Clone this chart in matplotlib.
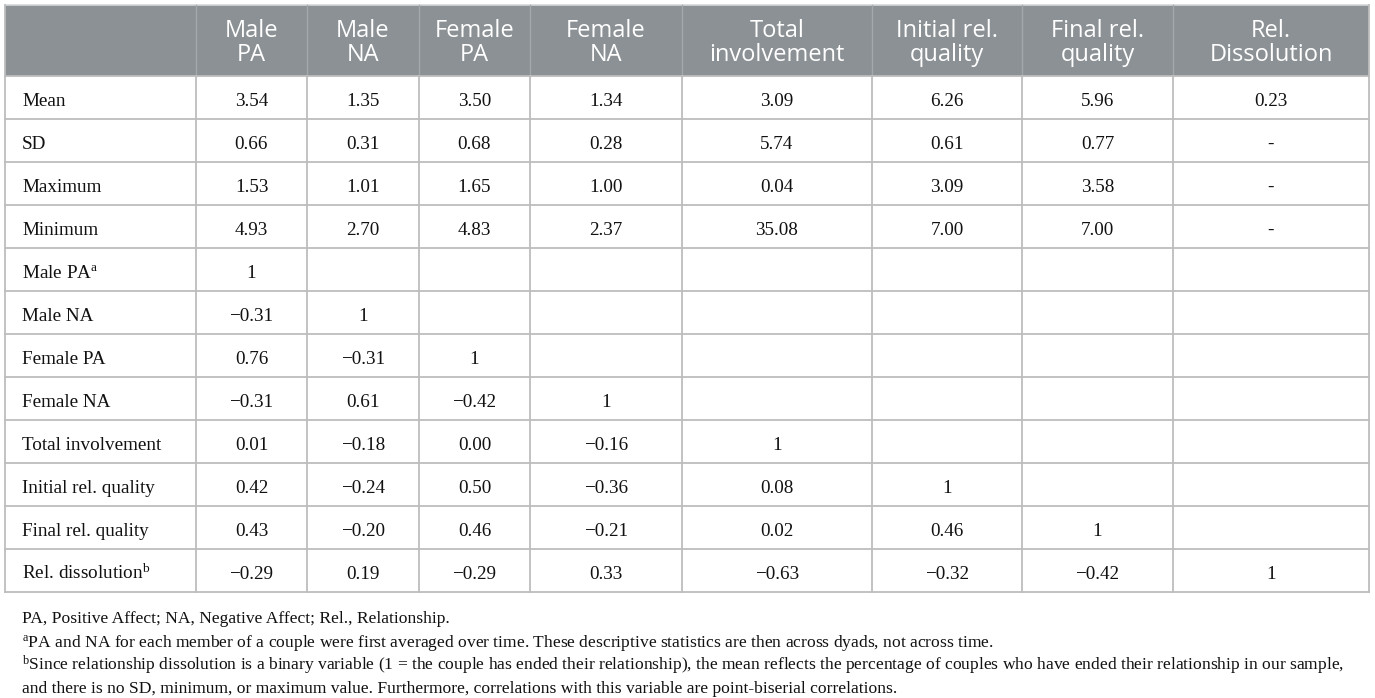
import matplotlib
matplotlib.use("Agg")
import matplotlib.pyplot as plt
from matplotlib.patches import Rectangle

plt.rcParams["mathtext.fontset"] = "custom"
plt.rcParams["mathtext.rm"] = "Liberation Serif"
plt.rcParams["mathtext.it"] = "Liberation Serif:italic"
plt.rcParams["mathtext.bf"] = "Liberation Serif:bold"

# ---------------- data ----------------
col_headers = ["Male\nPA", "Male\nNA", "Female\nPA", "Female\nNA", "Total\ninvolvement",
               "Initial rel.\nquality", "Final rel.\nquality", "Rel.\nDissolution"]
row_labels = ["Mean", "SD", "Maximum", "Minimum", "Male PA", "Male NA", "Female PA",
              "Female NA", "Total involvement", "Initial rel. quality", "Final rel. quality",
              "Rel. dissolution"]
row_label_sup = ["", "", "", "", "a", "", "", "", "", "", "", "b"]
mean_vals = ["3.54", "1.35", "3.50", "1.34", "3.09", "6.26", "5.96", "0.23"]
sd_vals = ["0.66", "0.31", "0.68", "0.28", "5.74", "0.61", "0.77", "-"]
max_vals = ["1.53", "1.01", "1.65", "1.00", "0.04", "3.09", "3.58", "-"]
min_vals = ["4.93", "2.70", "4.83", "2.37", "35.08", "7.00", "7.00", "-"]
corr_male_pa = ["1"]
corr_male_na = ["\u22120.31", "1"]
corr_female_pa = ["0.76", "\u22120.31", "1"]
corr_female_na = ["\u22120.31", "0.61", "\u22120.42", "1"]
corr_total_inv = ["0.01", "\u22120.18", "0.00", "\u22120.16", "1"]
corr_initial_q = ["0.42", "\u22120.24", "0.50", "\u22120.36", "0.08", "1"]
corr_final_q = ["0.43", "\u22120.20", "0.46", "\u22120.21", "0.02", "0.46", "1"]
corr_dissol = ["\u22120.29", "0.19", "\u22120.29", "0.33", "\u22120.63", "\u22120.32", "\u22120.42", "1"]
footnote_sups = ["", "a", "b", ""]
footnotes = [
    "PA, Positive Affect; NA, Negative Affect; Rel., Relationship.",
    "PA and NA for each member of a couple were first averaged over time. These descriptive statistics are then across dyads, not across time.",
    "Since relationship dissolution is a binary variable (1 = the couple has ended their relationship), the mean reflects the percentage of couples who have ended their relationship in our sample,",
    "and there is no SD, minimum, or maximum value. Furthermore, correlations with this variable are point-biserial correlations.",
]

body = [mean_vals, sd_vals, max_vals, min_vals, corr_male_pa, corr_male_na, corr_female_pa,
        corr_female_na, corr_total_inv, corr_initial_q, corr_final_q, corr_dissol]

# ---------------- layout ----------------
W, H = 1375, 698
col_edges = [5, 196, 307, 419, 530, 682, 872, 1022, 1173, 1369]
header_top, header_bot = 5, 76
row_h = 43

HEAD_BG = "#8b9194"
HEAD_SEP = "#a3a8ab"
GRID = "#bdbdbd"
TXT = "#111111"
SERIF = ["Liberation Serif", "DejaVu Serif"]
SANS = ["Open Sans", "DejaVu Sans"]


def with_sup(text, sup):
    return text + (r"$^{\mathrm{" + sup + "}}$" if sup else "")


def pre_sup(text, sup):
    return (r"$^{\mathrm{" + sup + "}}$" if sup else "") + text


fig = plt.figure(figsize=(W / 100, H / 100), dpi=100)
ax = fig.add_axes([0, 0, 1, 1])
ax.set_xlim(0, W)
ax.set_ylim(H, 0)
ax.axis("off")

left, right = col_edges[0], col_edges[-1]
n_rows = len(row_labels)
table_bot = header_bot + n_rows * row_h

# header
ax.add_patch(Rectangle((left, header_top), right - left, header_bot - header_top,
                       facecolor=HEAD_BG, edgecolor="none", zorder=1))
ax.plot([left, right], [header_top - 0.5, header_top - 0.5], color="#d5d7d8", lw=1.2, zorder=2)
for x in col_edges[1:-1]:
    ax.plot([x, x], [header_top, header_bot], color=HEAD_SEP, lw=1.0, zorder=2)
for j, h in enumerate(col_headers):
    cx = (col_edges[j + 1] + col_edges[j + 2]) / 2
    ax.text(cx, (header_top + header_bot) / 2 + 2.5, h, ha="center", va="center",
            color="white", fontsize=17, family=SANS, linespacing=1.05, zorder=3)

# grid
for i in range(n_rows + 1):
    y = header_bot + i * row_h
    ax.plot([left, right], [y, y], color=GRID, lw=1.3, zorder=2)
for x in col_edges:
    ax.plot([x, x], [header_bot, table_bot], color=GRID, lw=1.3, zorder=2)
ax.plot([left, left], [header_top, header_bot], color=GRID, lw=1.3, zorder=2)
ax.plot([right, right], [header_top, header_bot], color=GRID, lw=1.3, zorder=2)

# body
for i, (lab, sup, vals) in enumerate(zip(row_labels, row_label_sup, body)):
    base = header_bot + i * row_h + 30
    ax.text(22, base, with_sup(lab, sup), ha="left", va="baseline", fontsize=13.8,
            family=SERIF, color=TXT, zorder=3)
    for j, v in enumerate(vals):
        cx = (col_edges[j + 1] + col_edges[j + 2]) / 2
        ax.text(cx, base, v, ha="center", va="baseline", fontsize=13.8, family=SERIF,
                color=TXT, zorder=3)

# footnotes
fy = [623, 647, 670, 693]
for y, sup, txt in zip(fy, footnote_sups, footnotes):
    ax.text(22, y, pre_sup(txt, sup), ha="left", va="baseline", fontsize=12.6,
            family=SERIF, color=TXT, zorder=3)

fig.savefig("out.png", dpi=100)
